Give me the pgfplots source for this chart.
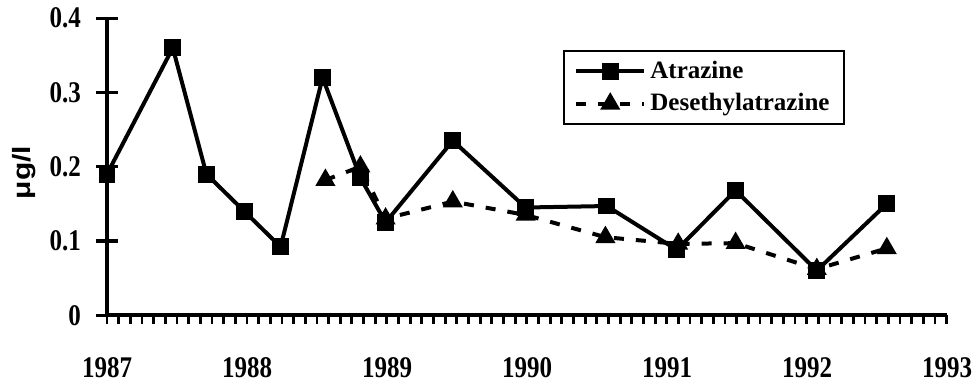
\documentclass[border=0pt]{standalone}
\usepackage{fontspec}
\setmainfont{Liberation Serif}
\setsansfont{Liberation Sans}
\usepackage{pgfplots}
\pgfplotsset{compat=1.18}
\begin{document}
\begin{tikzpicture}
\begin{axis}[
  scale only axis, width=420pt, height=148.5pt,
  xmin=1987, xmax=1993, ymin=0, ymax=0.4,
  axis x line*=bottom, axis y line*=left,
  axis line style={line width=2pt, -},
  clip=false,
  xtick={1987,1988,1989,1990,1991,1992,1993},
  xticklabels={1987,1988,1989,1990,1991,1992,1993},
  major x tick style={draw=none},
  minor xtick={1987,1987.0833333,...,1993.01},
  minor tick length=4.5pt,
  minor x tick style={line width=1.4pt, black},
  xtick align=outside,
  xticklabel style={yshift=-5pt},
  ytick={0,0.1,0.2,0.3,0.4},
  yticklabels={0,0.1,0.2,0.3,0.4},
  yticklabel style={xshift=-4pt},
  ytick align=center,
  major tick length=11pt,
  major y tick style={line width=1.6pt, black},
  tick label style={font=\fontsize{12.5}{14}\selectfont\bfseries, yscale=1.2},
  ylabel={\scalebox{1.2}[1]{\fontsize{12.5}{14}\selectfont\sffamily\bfseries μg/l}},
  ylabel style={at={(axis description cs:-0.099,0.48)}, anchor=center},
  legend style={at={(0.543,0.892)}, anchor=north west, draw=black, line width=1pt,
    font=\fontsize{12.5}{14}\selectfont\bfseries, cells={anchor=west},
    row sep=2pt, inner xsep=5pt, inner ysep=3pt},
  legend image code/.code={\draw[mark repeat=2,mark phase=2,#1] plot coordinates {(0cm,0cm)(0.6cm,0cm)(1.2cm,0cm)};},
]
\path (axis description cs:-0.1274,-0.1717) rectangle (axis description cs:1.0381,1.0539);
\addplot[black, line width=2pt, mark=square*, mark size=3.2pt, mark options={solid}] coordinates {
(1987.0,0.19) (1987.47,0.36) (1987.71,0.19) (1987.98,0.14) (1988.24,0.092)
(1988.54,0.32) (1988.81,0.185) (1988.99,0.125) (1989.47,0.235) (1989.99,0.145)
(1990.57,0.147) (1991.07,0.088) (1991.49,0.168) (1992.07,0.06) (1992.57,0.15)
};
\addlegendentry{Atrazine}
\addplot[black, line width=2pt, dash pattern=on 5pt off 6pt, mark=triangle*, mark size=3.8pt, mark options={solid}] coordinates {
(1988.56,0.182) (1988.81,0.2) (1988.99,0.13) (1989.47,0.153) (1989.99,0.135)
(1990.56,0.105) (1991.08,0.096) (1991.49,0.097) (1992.07,0.062) (1992.57,0.09)
};
\addlegendentry{Desethylatrazine}
\end{axis}
\end{tikzpicture}
\end{document}
